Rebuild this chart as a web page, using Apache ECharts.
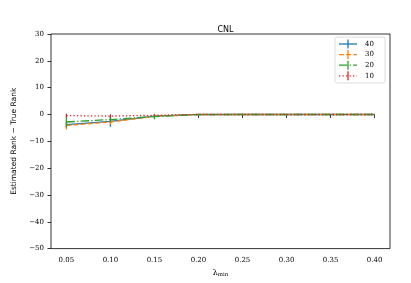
<!DOCTYPE html>
<html><head><meta charset="utf-8">
<script src="https://cdn.jsdelivr.net/npm/echarts@6/dist/echarts.min.js"></script>
<style>html,body{margin:0;padding:0;background:#fff}#c{width:411px;height:283px}</style>
</head><body><div id="c"></div>
<script>
const xs = [0.05, 0.10, 0.15, 0.20, 0.25, 0.30, 0.35, 0.40];
const names = ['40', '30', '20', '10'];
const y40 = [-3.8, -2.6, -0.6, 0, 0, 0, 0, 0];
const e40 = [1.0, 2.0, 0.4, 0, 0, 0, 0, 0];
const y30 = [-4.1, -2.8, -0.7, 0, 0, 0, 0, 0];
const e30 = [1.5, 1.0, 0.3, 0, 0, 0, 0, 0];
const y20 = [-2.8, -1.9, -0.8, -0.05, 0, 0, 0, 0];
const e20 = [2.0, 1.0, 1.0, 0, 0, 0, 0, 0];
const y10 = [-0.4, -0.6, -0.3, 0, 0, 0, 0, 0];
const e10 = [0.7, 0.6, 0.3, 0, 0, 0, 0, 0];
const xTicks = [0.05, 0.10, 0.15, 0.20, 0.25, 0.30, 0.35, 0.40];

const colors = ['#1f77b4', '#ff7f0e', '#2ca02c', '#d62728'];
const dashes = ['solid', [5, 2.2], [8.5, 2.2, 1.3, 2.2], [1.3, 2.2]];
const ys = [y40, y30, y20, y10];
const es = [e40, e30, e20, e10];
const serif = '"DejaVu Serif", serif';
const sans = '"DejaVu Sans", sans-serif';

const series = [];
names.forEach((n, i) => {
  series.push({
    type: 'custom', name: n + '_err', silent: true, z: 2 + i * 2,
    data: xs.map((x, k) => [x, ys[i][k], es[i][k]]).filter(d => d[2] > 0),
    renderItem: (params, api) => {
      const x = api.value(0), y = api.value(1), e = api.value(2);
      const p1 = api.coord([x, y - e]), p2 = api.coord([x, y + e]);
      return { type: 'line', shape: { x1: p1[0], y1: p1[1], x2: p2[0], y2: p2[1] },
        style: { stroke: colors[i], lineWidth: 1.3 } };
    }
  });
  series.push({
    type: 'line', name: n, z: 3 + i * 2, symbol: 'none', animation: false,
    data: xs.map((x, k) => [x, ys[i][k]]),
    lineStyle: { color: colors[i], width: 1.3, type: dashes[i] }
  });
});

// legend drawn with graphics
const lg = [];
const lx = 335, ly = 37;
lg.push({ type: 'rect', shape: { x: lx, y: ly, width: 50, height: 46, r: 2 },
  style: { fill: 'rgba(255,255,255,0.8)', stroke: '#d6d6d6', lineWidth: 0.8 }, z: 50 });
names.forEach((n, i) => {
  const yy = ly + 7 + i * 10.6;
  lg.push({ type: 'line', shape: { x1: lx + 4, y1: yy, x2: lx + 22, y2: yy },
    style: { stroke: colors[i], lineWidth: 1.3, lineDash: dashes[i] === 'solid' ? null : dashes[i] }, z: 51 });
  lg.push({ type: 'line', shape: { x1: lx + 13, y1: yy - 4.5, x2: lx + 13, y2: yy + 4.5 },
    style: { stroke: colors[i], lineWidth: 1.3 }, z: 51 });
  lg.push({ type: 'text', x: lx + 30, y: yy, style: { text: n, font: '7px ' + serif, fill: '#000', verticalAlign: 'middle' }, z: 51 });
});

const chart = echarts.init(document.getElementById('c'), null, { renderer: 'canvas' });
chart.setOption({
  animation: false,
  backgroundColor: '#fff',
  title: { text: 'CNL', left: 220.5, textAlign: 'center', top: 21, textStyle: { fontSize: 8, fontWeight: 'normal', fontFamily: sans, color: '#000' } },
  grid: { left: 51, right: 21, top: 34, bottom: 31, show: true, borderColor: '#000', borderWidth: 0.8, containLabel: false },
  xAxis: {
    type: 'value', min: 0.0325, max: 0.4175,
    name: '{l|λ}{s|min}', nameLocation: 'middle', nameGap: 17,
    nameTextStyle: { rich: { l: { fontSize: 8, fontFamily: serif, color: '#000' }, s: { fontSize: 5.5, fontFamily: serif, color: '#000', padding: [5, 0, 0, 0] } } },
    axisLine: { show: false }, splitLine: { show: false },
    axisTick: { show: true, length: 3.5, lineStyle: { color: '#000', width: 0.8 }, customValues: xTicks },
    axisLabel: { customValues: xTicks, fontSize: 7, fontFamily: serif, color: '#000', margin: 8, formatter: v => v.toFixed(2) }
  },
  yAxis: {
    type: 'value', min: -50, max: 30, interval: 10,
    name: 'Estimated Rank − True Rank', nameLocation: 'middle', nameGap: 27,
    nameTextStyle: { fontSize: 7.5, fontFamily: sans, color: '#000' },
    axisLine: { show: false }, splitLine: { show: false },
    axisTick: { show: true, length: 3.5, lineStyle: { color: '#000', width: 0.8 } },
    axisLabel: { fontSize: 7, fontFamily: serif, color: '#000', margin: 7, formatter: v => (v < 0 ? '−' + Math.abs(v) : '' + v) }
  },
  series: series,
  graphic: lg
});
</script></body></html>
